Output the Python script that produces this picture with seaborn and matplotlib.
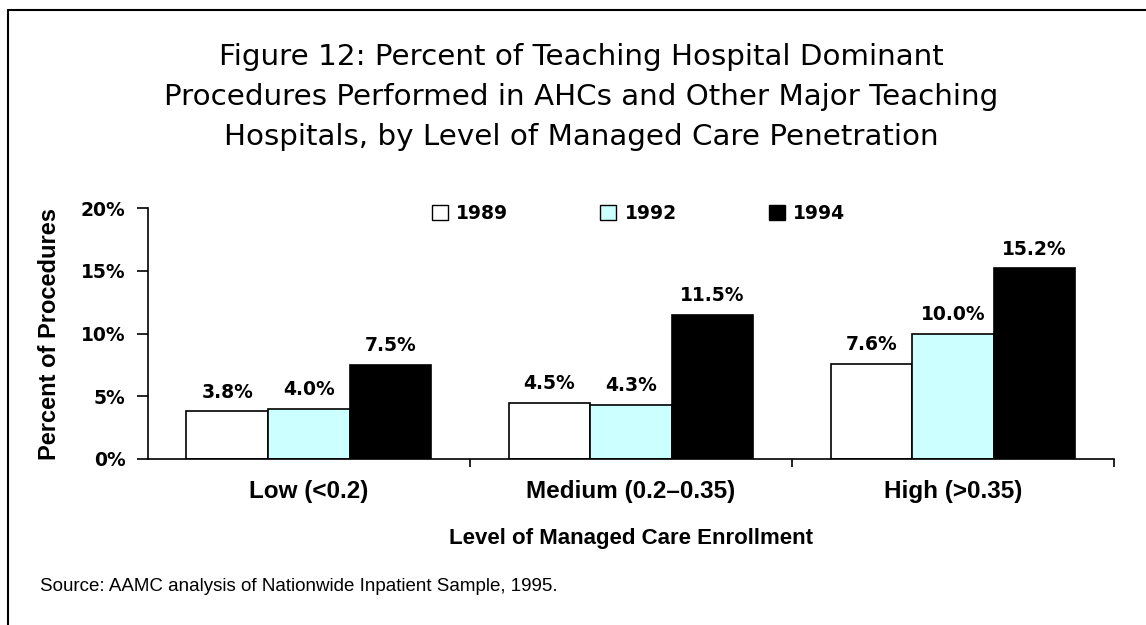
import pandas as pd
import matplotlib.pyplot as plt
import seaborn as sns
from matplotlib.lines import Line2D
from matplotlib.ticker import FixedLocator

sns.set_style("white")
plt.rcParams['font.family'] = ['Liberation Sans', 'DejaVu Sans']
plt.rcParams['text.color'] = 'black'
plt.rcParams['xtick.color'] = 'black'
plt.rcParams['ytick.color'] = 'black'
plt.rcParams['axes.labelcolor'] = 'black'

# ---- data ----
categories = ["Low (<0.2)", "Medium (0.2\u20130.35)", "High (>0.35)"]
years = ["1989", "1992", "1994"]
pct_1989 = [3.8, 4.5, 7.6]
pct_1992 = [4.0, 4.3, 10.0]
pct_1994 = [7.5, 11.5, 15.2]
yticks = [0, 5, 10, 15, 20]

df = pd.DataFrame({
    "level": categories * 3,
    "year": [years[0]] * 3 + [years[1]] * 3 + [years[2]] * 3,
    "pct": pct_1989 + pct_1992 + pct_1994,
})

colors = {"1989": "#FFFFFF", "1992": "#CCFFFF", "1994": "#000000"}
num_font = dict(family="DejaVu Sans", weight="bold", size=13.5)

fig = plt.figure(figsize=(11.46, 6.25), dpi=100)
ax = fig.add_axes([0.129, 0.2656, 0.843, 0.4016])

sns.barplot(data=df, x="level", y="pct", hue="year", palette=colors,
            edgecolor="black", linewidth=1.2, width=0.76, ax=ax,
            saturation=1, legend=True)

for c in ax.containers:
    ax.bar_label(c, fmt="%.1f%%", padding=7, **num_font)

ax.set_ylim(0, 20)
ax.set_yticks(yticks)
ax.set_yticklabels([f"{t}%" for t in yticks], **num_font)
ax.set_xlim(-0.5, 2.5)
ax.set_xticks(range(len(categories)))
ax.set_xticklabels(categories, fontsize=17.5, fontweight="bold")
ax.xaxis.set_minor_locator(FixedLocator([0.5, 1.5, 2.5]))
ax.tick_params(axis="x", which="major", length=0, pad=15)
ax.tick_params(axis="x", which="minor", length=6, width=1.2, bottom=True, direction="out")
ax.tick_params(axis="y", length=8, width=1.2, direction="out", left=True, pad=8)

ax.set_xlabel("Level of Managed Care Enrollment", fontsize=16, fontweight="bold", labelpad=18)
ax.set_ylabel("Percent of Procedures", fontsize=17, fontweight="bold", labelpad=14)

sns.despine(ax=ax)
for s in ["left", "bottom"]:
    ax.spines[s].set_color("black")
    ax.spines[s].set_linewidth(1.2)

leg = ax.legend(loc="center", bbox_to_anchor=(0.508, 0.98), ncol=3, frameon=False,
                handlelength=0.85, handleheight=0.85, handletextpad=0.45,
                columnspacing=4.9, prop=dict(family="DejaVu Sans", weight="bold", size=13.5))
for h in leg.legend_handles:
    h.set_edgecolor("black")
    h.set_linewidth(1.0)

fig.text(0.507, 0.845,
         "Figure 12: Percent of Teaching Hospital Dominant\n"
         "Procedures Performed in AHCs and Other Major Teaching\n"
         "Hospitals, by Level of Managed Care Penetration",
         ha="center", va="center", fontsize=21.2, family="DejaVu Sans",
         linespacing=1.53)
fig.text(0.035, 0.062, "Source: AAMC analysis of Nationwide Inpatient Sample, 1995.",
         ha="left", va="center", fontsize=13.5)

# outer frame (cropped on right/bottom)
fig.add_artist(Line2D([8 / 1146, 8 / 1146], [0, 1 - 10 / 625], color="black", lw=1.5))
fig.add_artist(Line2D([8 / 1146, 1], [1 - 10 / 625, 1 - 10 / 625], color="black", lw=1.5))

fig.savefig("out.png", dpi=100)
